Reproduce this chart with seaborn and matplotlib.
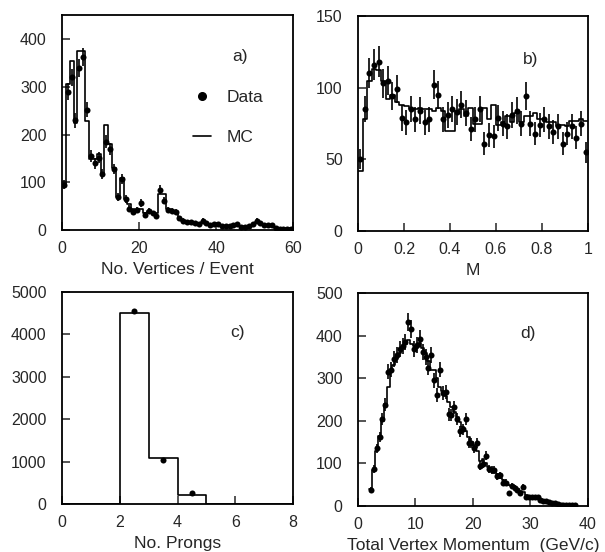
import numpy as np
import pandas as pd
import matplotlib
matplotlib.use("Agg")
import matplotlib.pyplot as plt
import seaborn as sns
from matplotlib.lines import Line2D

# ---------------- data ----------------
# a) No. vertices / event, bins of width 1 from 0 to 60
a_edges = list(range(0, 61))
a_mc = [95, 305, 355, 225, 375, 375, 228, 150, 150, 160,
        120, 220, 180, 130, 70, 110, 65, 55, 45, 40,
        45, 35, 40, 38, 35, 75, 75, 45, 38, 35,
        25, 20, 17, 15, 13, 12, 18, 12, 10, 10,
        10, 9, 8, 8, 8, 10, 8, 7, 8, 10,
        18, 15, 10, 10, 10, 5, 5, 4, 4, 4]
a_data = [95, 290, 320, 230, 340, 362, 252, 155, 140, 152,
          118, 185, 170, 128, 70, 108, 65, 45, 38, 42,
          57, 32, 40, 35, 30, 85, 62, 42, 40, 38,
          25, 20, 18, 17, 14, 12, 20, 14, 10, 12,
          12, 8, 8, 8, 10, 12, 6, 7, 8, 12,
          20, 14, 10, 10, 10, 4, 3, 3, 3, 3]

# b) M, bins of width 0.02 from 0 to 1
b_edges = [round(i * 0.02, 2) for i in range(51)]
b_mc = [42, 78, 105, 113, 112, 105, 92, 95, 90, 88,
        87, 85, 85, 86, 85, 85, 84, 86, 84, 70,
        70, 84, 85, 80, 86, 75, 75, 86, 78, 88,
        74, 76, 80, 76, 82, 76, 80, 80, 82, 78,
        78, 76, 76, 73, 74, 73, 77, 77, 78, 77]
b_data = [50, 85, 110, 116, 118, 103, 105, 94, 99, 79,
          76, 85, 78, 84, 76, 78, 102, 95, 78, 81,
          85, 83, 88, 82, 71, 78, 85, 61, 67, 66,
          79, 75, 73, 81, 84, 75, 94, 75, 68, 74,
          78, 73, 69, 73, 61, 68, 73, 65, 75, 55]

# c) No. prongs, unit bins from 0 to 8
c_edges = [0, 1, 2, 3, 4, 5, 6, 7, 8]
c_mc = [0, 0, 4500, 1080, 220, 0, 0, 0]
c_data_x = [2.5, 3.5, 4.5]
c_data = [4550, 1030, 260]

# d) Total vertex momentum (GeV/c), bins of width 0.5 from 2 to 38
d_edges = [2 + 0.5 * i for i in range(73)]
d_mc = [40, 85, 130, 165, 200, 240, 280, 315, 330, 345,
        360, 372, 380, 390, 380, 375, 370, 382, 370, 358,
        340, 320, 320, 300, 280, 270, 258, 245, 232, 220,
        208, 196, 185, 175, 162, 150, 140, 130, 105, 110,
        100, 92, 85, 80, 75, 65, 60, 57, 50, 47,
        43, 40, 35, 32, 25, 22, 20, 20, 20, 17,
        14, 12, 10, 9, 7, 5, 4, 3, 3, 2, 2, 2]
d_data = [38, 88, 135, 162, 205, 238, 315, 320, 345, 355,
          368, 375, 385, 432, 415, 368, 378, 393, 362, 350,
          325, 355, 295, 260, 320, 265, 268, 215, 213, 232,
          205, 175, 180, 205, 148, 148, 135, 148, 95, 98,
          118, 88, 85, 85, 70, 72, 55, 55, 30, 48,
          42, 38, 30, 45, 22, 20, 20, 20, 22, 15,
          12, 12, 10, 8, 6, 4, 3, 3, 2, 2, 2, 3]

# ---------------- style ----------------
sns.set_style("ticks")
plt.rcParams["font.family"] = ["Liberation Sans", "DejaVu Sans"]
plt.rcParams["font.size"] = 12
plt.rcParams["axes.linewidth"] = 1.3

TICK_FS = 11.5
LABEL_FS = 12.5

fig = plt.figure(figsize=(6.05, 5.52), dpi=100)
ax_a = fig.add_axes([0.1025, 0.583, 0.382, 0.3895])
ax_b = fig.add_axes([0.5917, 0.5815, 0.380, 0.3895])
ax_c = fig.add_axes([0.1025, 0.087, 0.382, 0.384])
ax_d = fig.add_axes([0.5917, 0.0833, 0.380, 0.386])


def centers(edges):
    e = np.asarray(edges, dtype=float)
    return (e[:-1] + e[1:]) / 2


def draw_panel(ax, edges, mc, xdata, ydata, errors=True):
    df_mc = pd.DataFrame({"x": centers(edges), "w": mc})
    sns.histplot(data=df_mc, x="x", weights="w", bins=edges, element="step",
                 fill=False, color="black", linewidth=1.2, ax=ax)
    df_d = pd.DataFrame({"x": xdata, "y": ydata})
    if errors:
        yerr = np.sqrt(np.asarray(ydata, dtype=float))
        ax.errorbar(df_d["x"], df_d["y"], yerr=yerr, fmt="none",
                    ecolor="black", elinewidth=1.2, capsize=0)
    sns.scatterplot(data=df_d, x="x", y="y", color="black", s=19,
                    edgecolor="black", linewidth=0, ax=ax, zorder=5)


draw_panel(ax_a, a_edges, a_mc, centers(a_edges), a_data)
draw_panel(ax_b, b_edges, b_mc, centers(b_edges), b_data)
draw_panel(ax_c, c_edges, c_mc, c_data_x, c_data, errors=False)
draw_panel(ax_d, d_edges, d_mc, centers(d_edges), d_data)

settings = [
    (ax_a, (0, 60), (0, 450), [0, 20, 40, 60], [0, 100, 200, 300, 400],
     ["0", "20", "40", "60"], "No. Vertices / Event", "a)", (0.77, 0.81)),
    (ax_b, (0, 1), (0, 150), [0, 0.2, 0.4, 0.6, 0.8, 1.0], [0, 50, 100, 150],
     ["0", "0.2", "0.4", "0.6", "0.8", "1"], "M", "b)", (0.75, 0.80)),
    (ax_c, (0, 8), (0, 5000), [0, 2, 4, 6, 8], [0, 1000, 2000, 3000, 4000, 5000],
     ["0", "2", "4", "6", "8"], "No. Prongs", "c)", (0.76, 0.81)),
    (ax_d, (0, 40), (0, 500), [0, 10, 20, 30, 40], [0, 100, 200, 300, 400, 500],
     ["0", "10", "20", "30", "40"], "Total Vertex Momentum  (GeV/c)", "d)", (0.74, 0.81)),
]
for ax, xl, yl, xt, yt, xtl, xlabel, tag, tagpos in settings:
    ax.set_xlim(*xl)
    ax.set_ylim(*yl)
    ax.set_xticks(xt)
    ax.set_xticklabels(xtl)
    ax.set_yticks(yt)
    ax.set_xlabel(xlabel, fontsize=LABEL_FS, labelpad=4)
    ax.set_ylabel("")
    ax.tick_params(axis="both", direction="in", length=6, width=1.1,
                   labelsize=TICK_FS, top=False, right=False)
    ax.tick_params(axis="x", pad=8)
    ax.tick_params(axis="y", pad=11)
    for sp in ax.spines.values():
        sp.set_visible(True)
        sp.set_linewidth(1.3)
        sp.set_color("black")
    ax.text(tagpos[0], tagpos[1], tag, transform=ax.transAxes, fontsize=LABEL_FS,
            ha="center", va="center")

handles = [Line2D([], [], marker="o", color="black", linestyle="none", markersize=5.5),
           Line2D([], [], color="black", linewidth=1.2)]
ax_a.legend(handles, ["Data", "MC"], loc="center left",
            bbox_to_anchor=(0.5, 0.525), frameon=False, fontsize=LABEL_FS,
            labelspacing=1.45, handlelength=1.0, handletextpad=0.9)

fig.savefig("out.png", dpi=100)
